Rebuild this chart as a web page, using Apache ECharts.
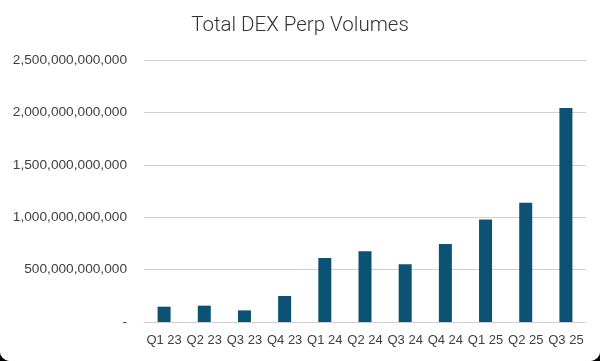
<!DOCTYPE html>
<html><head><meta charset="utf-8">
<script src="https://cdn.jsdelivr.net/npm/echarts@6/dist/echarts.min.js"></script>
<style>
html,body{margin:0;padding:0;background:#000;}
#c{width:600px;height:361px;background:#fff;border-radius:0 0 10px 10px;overflow:hidden;}
</style></head>
<body><div id="c"></div>
<script>
const categories = ['Q1 23','Q2 23','Q3 23','Q4 23','Q1 24','Q2 24','Q3 24','Q4 24','Q1 25','Q2 25','Q3 25'];
const volumes = [146e9,156e9,111e9,248e9,611e9,675e9,551e9,745e9,978e9,1137e9,2041e9];
const yTicks = {min:0, max:2500e9, interval:500e9};
const chart = echarts.init(document.getElementById('c'), null, {renderer:'canvas'});
chart.setOption({
  animation:false,
  backgroundColor:'#fff',
  title:{text:'Total DEX Perp Volumes',left:'center',top:10,
    textStyle:{fontFamily:'Roboto',fontWeight:300,fontSize:20.5,color:'#333'}},
  grid:{left:144,right:14,top:60,bottom:39},
  xAxis:{type:'category',data:categories,
    axisLine:{lineStyle:{color:'#d0d0d0',width:1}},axisTick:{show:false},
    axisLabel:{color:'#404040',fontFamily:'Liberation Sans',fontSize:13,margin:12,interval:0}},
  yAxis:{type:'value',min:yTicks.min,max:yTicks.max,interval:yTicks.interval,
    axisLine:{show:false},axisTick:{show:false},
    splitLine:{lineStyle:{color:'#d0d0d0',width:1}},
    axisLabel:{color:'#404040',fontFamily:'Liberation Sans',fontSize:13.7,margin:17,
      formatter:v=> v===0 ? '-' : Math.round(v).toLocaleString('en-US')}},
  series:[{type:'bar',data:volumes,barWidth:13,itemStyle:{color:'#0b5274'}}]
});
</script></body></html>
